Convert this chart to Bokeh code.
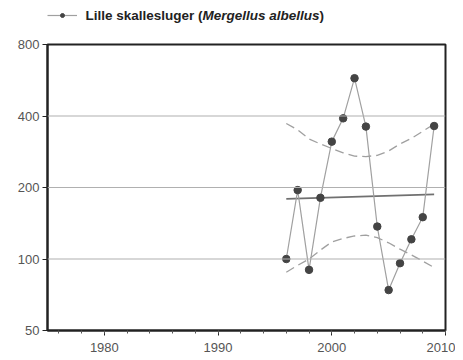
from bokeh.plotting import figure
from bokeh.layouts import column
from bokeh.models import (FixedTicker, NumeralTickFormatter, Label, Legend, LegendItem, Span, Range1d)
from bokeh.embed import file_html
from bokeh.resources import INLINE

years = [1996, 1997, 1998, 1999, 2000, 2001, 2002, 2003, 2004, 2005, 2006, 2007, 2008, 2009]
counts = [100, 195, 90, 181, 312, 391, 577, 361, 137, 74, 96, 121, 150, 363]
trend_years = [1996, 2009]
trend_vals = [179, 187]
upper = [372, 350, 320, 305, 292, 280, 271, 270, 273, 285, 305, 322, 345, 370]
lower = [88, 94, 100, 109, 118, 122, 125, 126, 123, 117, 110, 104, 98, 92]
y_ticks = [50, 100, 200, 400, 800]
x_ticks = [1980, 1990, 2000, 2010]
x_minor = list(range(1976, 2011, 2))
grid_vals = [100, 200, 400]
legend_parts = ["Lille skallesluger (", "Mergellus albellus", ")"]

W = 455
FONT = "Liberation Sans"
LINE_COL = "#a0a0a0"
DOT_COL = "#444444"
DOT_SIZE = 7.5

# --- legend strip (its frame is aligned with the main chart's frame) ---
top = figure(width=W, height=32, x_range=Range1d(0, 1), y_range=Range1d(0, 1),
             output_backend="svg", toolbar_location=None,
             min_border_left=47, min_border_right=10, min_border_top=0, min_border_bottom=0)
top.axis.visible = False
top.grid.visible = False
top.outline_line_alpha = 0
# legend-key renderers (their data lie outside this strip's ranges, so only the key shows)
lk = top.line(years, counts, line_color=LINE_COL, line_width=1.2)
sk = top.scatter(years, counts, size=DOT_SIZE, fill_color=DOT_COL, line_color=DOT_COL)
legend = Legend(items=[LegendItem(label=" ", renderers=[lk, sk])], location=(0, 12),
                glyph_width=30, glyph_height=10, padding=0, margin=0, label_standoff=0,
                border_line_alpha=0, background_fill_alpha=0, label_text_font_size="1px",
                label_height=10, label_width=1)
top.add_layout(legend)
fs = "13.5px"
common = dict(x_units="screen", y_units="screen", y=17, text_baseline="middle",
              text_font=FONT, text_font_size=fs, text_color="#222222")
top.add_layout(Label(x=38, text=legend_parts[0], text_font_style="bold", **common))
top.add_layout(Label(x=155, text=legend_parts[1], text_font_style="bold italic", **common))
top.add_layout(Label(x=272, text=legend_parts[2], text_font_style="bold", **common))

# --- main chart ---
p = figure(width=W, height=324, y_axis_type="log", x_range=(1975, 2010), y_range=(50, 800),
           output_backend="svg", toolbar_location=None,
           min_border_left=47, min_border_right=10, min_border_top=12, min_border_bottom=26)
p.xgrid.visible = False
p.ygrid.visible = False
for gv in grid_vals:
    p.add_layout(Span(location=gv, dimension="width", line_color="#b0b0b0", line_width=1.2))

p.outline_line_color = "#222222"
p.outline_line_width = 2

for ax in (p.xaxis[0], p.yaxis[0]):
    ax.axis_line_color = "#222222"
    ax.axis_line_width = 2
    ax.major_tick_in = 0
    ax.major_tick_out = 5
    ax.minor_tick_in = 0
    ax.minor_tick_out = 3
    ax.major_tick_line_color = "#222222"
    ax.minor_tick_line_color = "#555555"
    ax.major_label_text_font = FONT
    ax.major_label_text_font_size = "13px"
    ax.major_label_text_color = "#555555"

p.xaxis.ticker = FixedTicker(ticks=x_ticks, minor_ticks=x_minor)
p.xaxis.major_label_standoff = 7
p.yaxis.ticker = FixedTicker(ticks=y_ticks, minor_ticks=[])
p.yaxis.formatter = NumeralTickFormatter(format="0")
p.yaxis.major_label_standoff = 3

p.line(years, upper, line_color="#a0a0a0", line_width=1.3, line_dash="9 5")
p.line(years, lower, line_color="#a0a0a0", line_width=1.3, line_dash="9 5")
p.line(trend_years, trend_vals, line_color="#707070", line_width=1.8)
p.line(years, counts, line_color=LINE_COL, line_width=1.2)
p.scatter(years, counts, size=DOT_SIZE, fill_color=DOT_COL, line_color=DOT_COL)

layout = column(top, p, spacing=0)
open("out.html", "w").write(file_html(layout, INLINE))
